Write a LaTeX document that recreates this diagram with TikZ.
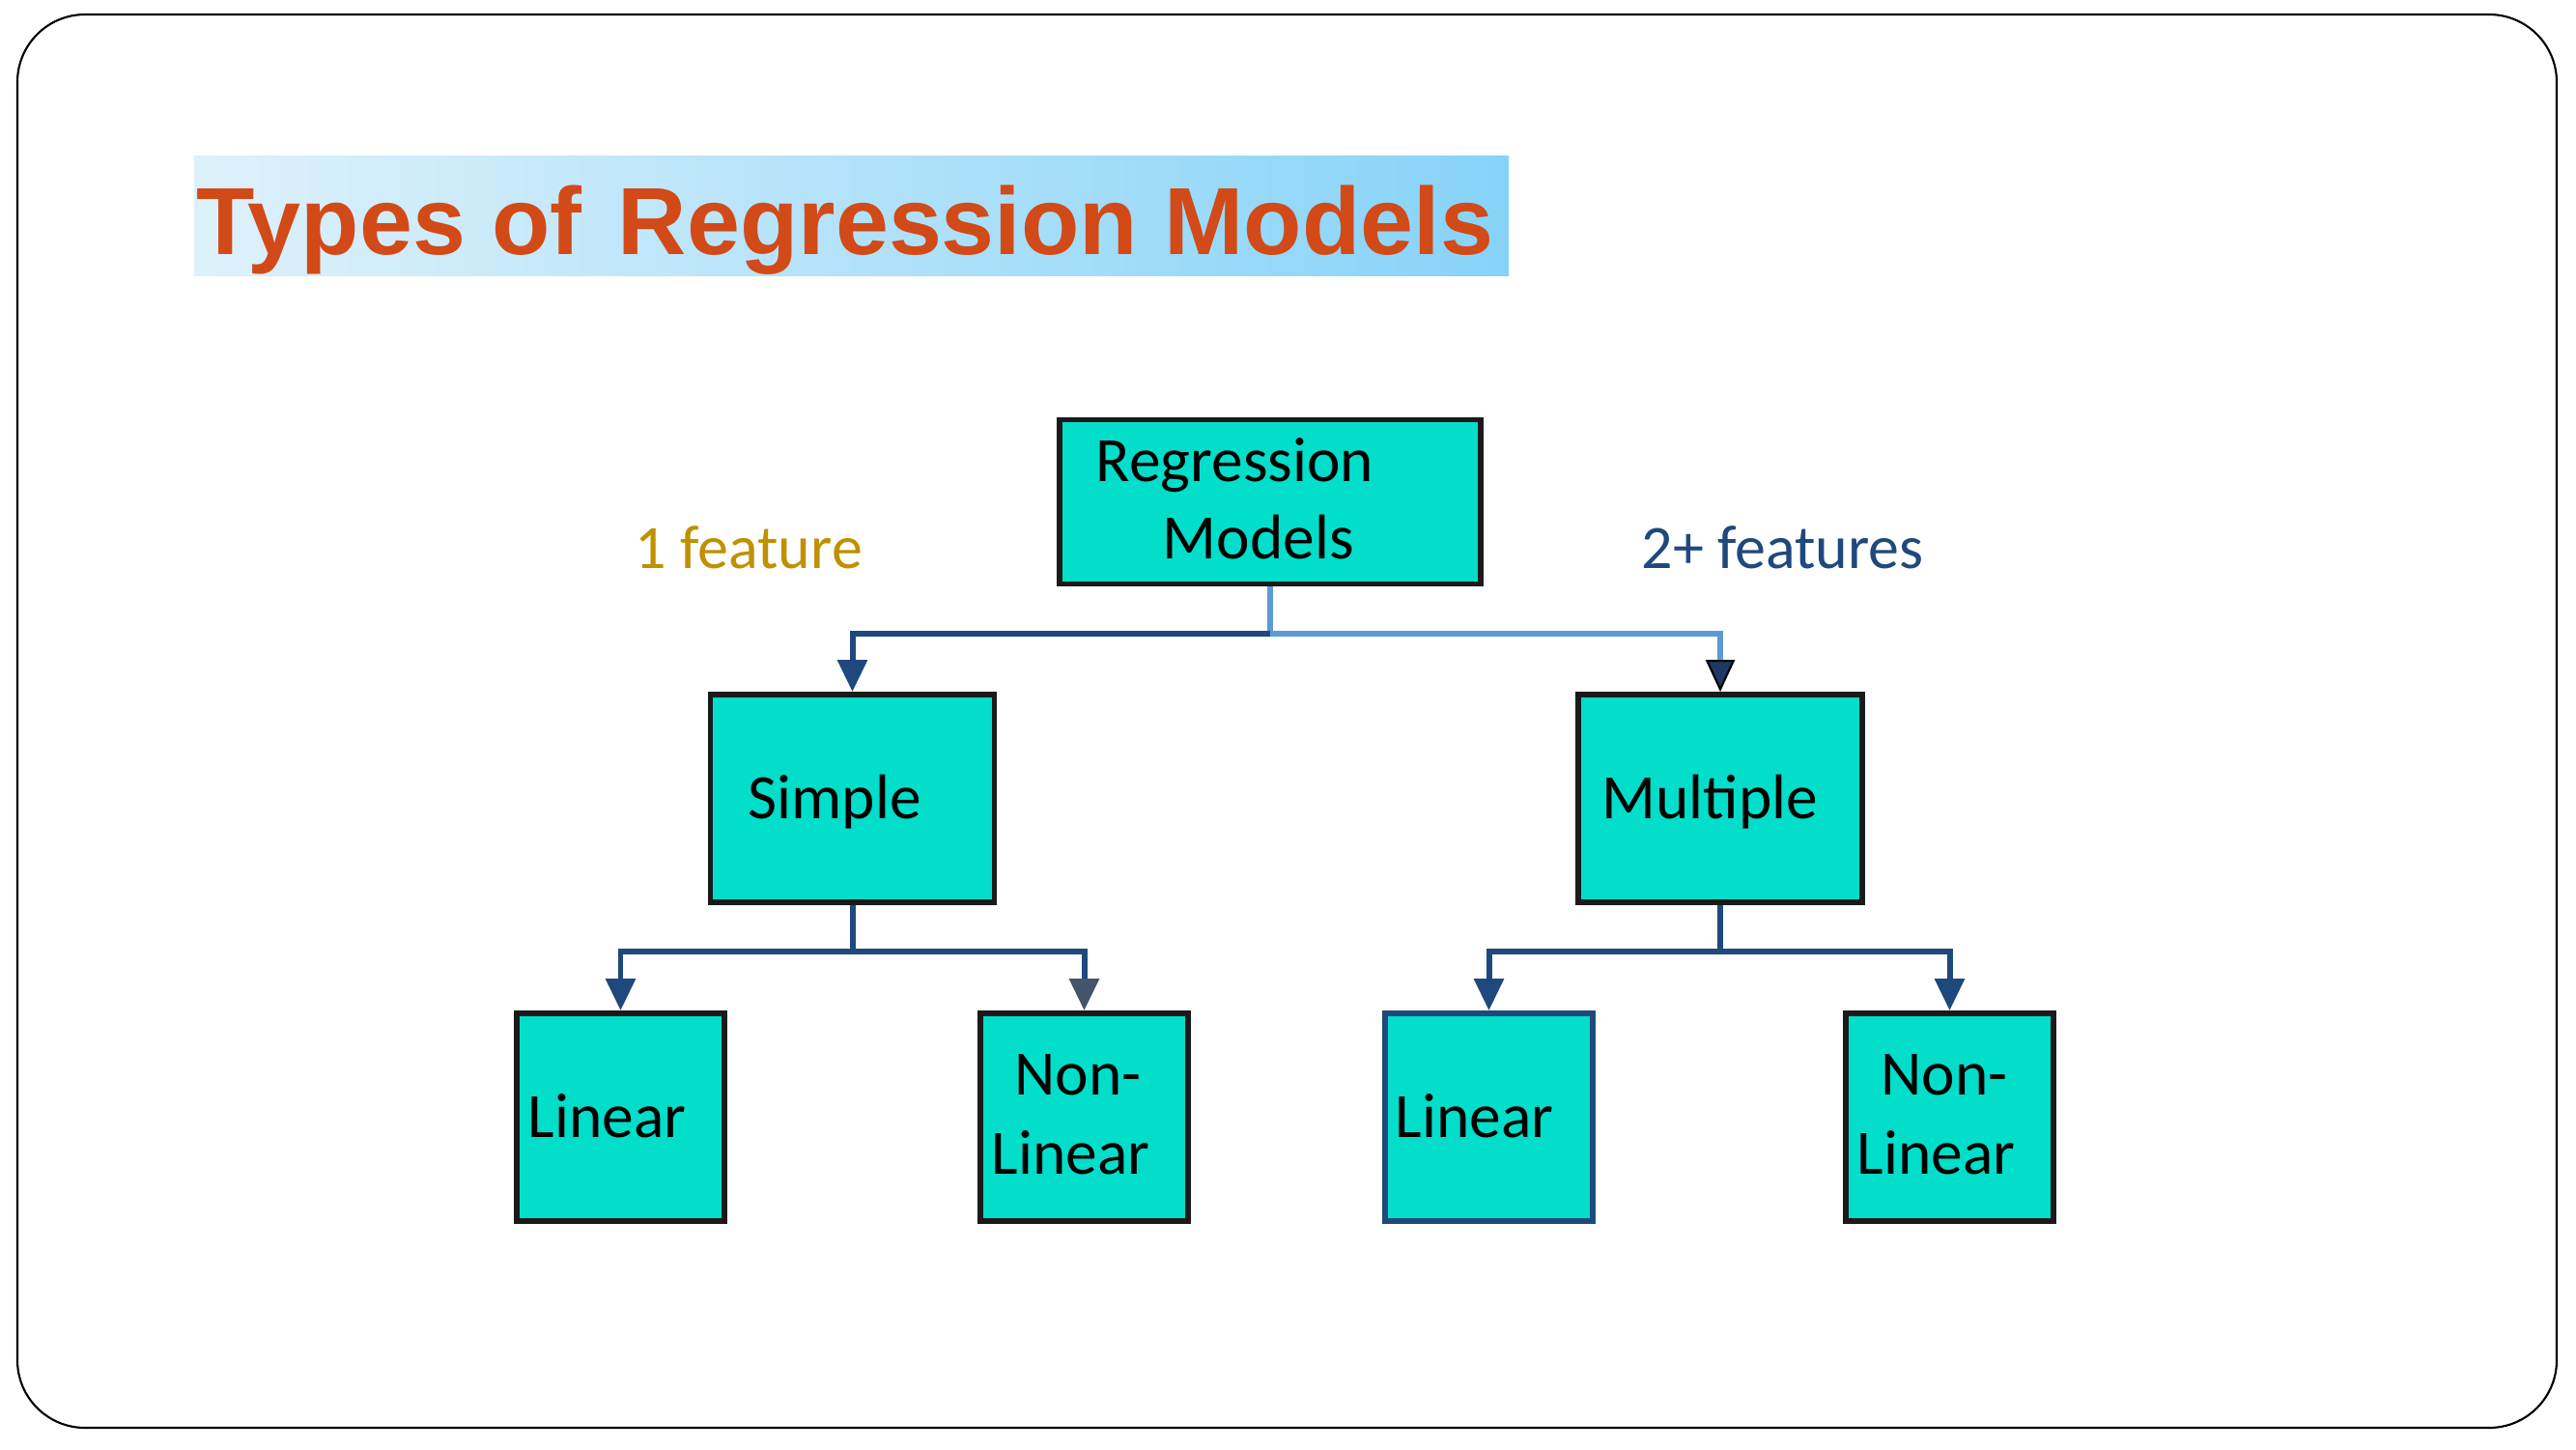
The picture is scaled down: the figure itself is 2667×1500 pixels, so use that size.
\documentclass[tikz,border=0pt]{standalone}
\usepackage{fontspec}
\setmainfont{Carlito}
\newfontfamily\titlefont{Liberation Sans}
\usetikzlibrary{arrows.meta}
\definecolor{boxfill}{RGB}{2,222,201}
\definecolor{boxline}{RGB}{26,26,26}
\definecolor{darkblue}{RGB}{31,73,125}
\definecolor{lightblue}{RGB}{91,155,213}
\definecolor{navyhead}{RGB}{31,56,100}
\definecolor{slatehead}{RGB}{68,84,106}
\definecolor{titlered}{RGB}{210,74,24}
\definecolor{gold}{RGB}{191,144,0}
\definecolor{bannerL}{RGB}{222,241,251}
\definecolor{bannerR}{RGB}{135,211,248}
\begin{document}
\begin{tikzpicture}[x=0.01cm,y=-0.01cm,
  box/.style={draw=boxline, fill=boxfill, line width=1.6pt, inner sep=0pt, rectangle},
  bigbox/.style={box, minimum width=4.36cm, minimum height=1.70cm},
  midbox/.style={box, minimum width=2.94cm, minimum height=2.15cm},
  smallbox/.style={box, minimum width=2.15cm, minimum height=2.15cm},
  txt/.style={anchor=base west, inner sep=0pt, font=\fontsize{18.6pt}{22pt}\selectfont},
  lbl/.style={anchor=base west, inner sep=0pt, font=\fontsize{18.2pt}{22pt}\selectfont},
  conn/.style={line width=1.7pt, draw=darkblue},
  tipd/.style={-{Triangle[width=0.3cm,length=0.33cm]}}
]
\useasboundingbox (0,0) rectangle (2667,1500);
\draw[line width=0.6pt, rounded corners=0.7cm] (18,15) rectangle (2647,1478);

% title banner
\shade[left color=bannerL, right color=bannerR] (201,162) rectangle (1562,285);
\node[anchor=base west, inner sep=0pt, text=titlered,
      font=\titlefont\bfseries\fontsize{28.1pt}{30pt}\selectfont] (title) at (203,263)
      {Types of\hspace{0.1em} Regression Models};

% boxes
\node[bigbox] (root) at (1315,519.5) {};
\node[midbox] (simple) at (882.5,826.5) {};
\node[midbox] (multiple) at (1781,826.5) {};
\node[smallbox] (lin1) at (642.5,1156.5) {};
\node[smallbox] (nl1) at (1122.5,1156.5) {};
\node[smallbox, draw=darkblue] (lin2) at (1541.5,1156.5) {};
\node[smallbox] (nl2) at (2018.5,1156.5) {};

% texts
\node[txt] (t-reg1) at (1134,498) {Regression};
\node[txt] (t-reg2) at (1203,578) {Models};
\node[lbl, text=gold] (t-f1) at (657,588) {1 feature};
\node[lbl, text=darkblue] (t-f2) at (1699,588) {2+ features};
\node[txt] (t-simple) at (774,847) {Simple};
\node[txt] (t-multiple) at (1658,847) {Multiple};
\node[txt] (t-lin1) at (546,1177) {Linear};
\node[txt] (t-nl1a) at (1050,1133) {Non-};
\node[txt] (t-nl1b) at (1026,1215) {Linear};
\node[txt] (t-lin2) at (1444,1177) {Linear};
\node[txt] (t-nl2a) at (1947,1133) {Non-};
\node[txt] (t-nl2b) at (1922,1215) {Linear};

% connectors
\coordinate (j0) at (root.south |- 0,656);
\coordinate (j1) at (simple.south |- 0,985);
\coordinate (j2) at (multiple.south |- 0,985);
\draw[line width=1.5pt, draw=lightblue,
      -{Triangle[width=0.3cm,length=0.33cm,color=black,fill=navyhead,line width=0.6pt]}]
      (root.south) -- (j0) -| (multiple.north);
\draw[conn, tipd] (j0) -| (simple.north);
\draw[conn] (simple.south) -- (j1);
\draw[conn, tipd] (j1) -| (lin1.north);
\draw[conn, -{Triangle[width=0.3cm,length=0.33cm,color=slatehead]}] (j1) -| (nl1.north);
\draw[conn] (multiple.south) -- (j2);
\draw[conn, tipd] (j2) -| (lin2.north);
\draw[conn, tipd] (j2) -| (nl2.north);
\end{tikzpicture}
\end{document}
